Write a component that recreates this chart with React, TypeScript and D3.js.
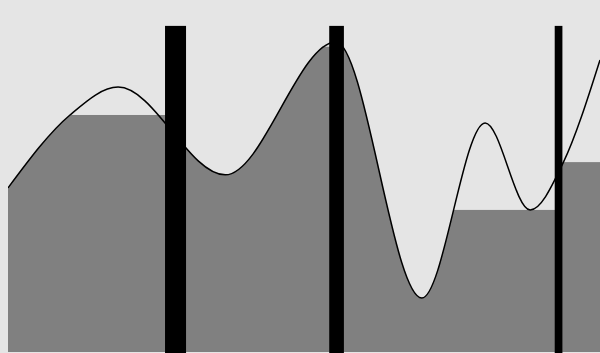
import React, { useEffect } from "react";
import * as d3 from "d3";

// Curve samples (x in domain units 0..100, y in value units 0..100)
const curveX = [0, 10.47, 18.6, 36.7, 55.4, 69.9, 80.6, 88.2, 93.75, 100];
const curveY = [47.7, 68.9, 77.0, 51.5, 90.1, 15.7, 66.6, 41.3, 54.9, 84.9];

// Separator bars: center position and width (domain units)
const barCenters = [28.3, 55.5, 93.0];
const barWidths = [3.55, 2.48, 1.3];
const barTop = 94.8;

// In each region between separators the fill follows the curve up to the
// split point, then holds the level reached there.
const regionSplits = [10.47, 53.04, 75.17, 93.0];
const regionCaps = [68.9, 88.75, 41.3, 55.2];

const W = 592;
const H = 345;
const BOTTOM = 344;

export default function App() {
  useEffect(() => {
    document.documentElement.style.background = "#e5e5e5";
    document.documentElement.style.overflow = "hidden";
    document.body.style.background = "#e5e5e5";
  }, []);

  const x = d3.scaleLinear().domain([0, 100]).range([0, W]);
  const y = d3.scaleLinear().domain([0, 100]).range([BOTTOM, 0]);

  const pts: [number, number][] = curveX.map((v, i) => [v, curveY[i]]);

  const area = d3
    .area<[number, number]>()
    .x((d) => x(d[0]))
    .y0(y(0))
    .y1((d) => y(d[1]))
    .curve(d3.curveMonotoneX);
  const line = d3
    .line<[number, number]>()
    .x((d) => x(d[0]))
    .y((d) => y(d[1]))
    .curve(d3.curveMonotoneX);

  const bounds = [0, ...barCenters, 100];
  const areaPath = area(pts) || "";

  return (
    <svg
      width={W}
      height={H}
      style={{ position: "fixed", left: 8, top: 8, display: "block", background: "#e5e5e5" }}
    >
      <defs>
        {regionSplits.map((s, i) => (
          <clipPath id={`reg${i}`} key={i}>
            <rect
              x={x(bounds[i])}
              y={0}
              width={Math.max(0, x(s) - x(bounds[i]))}
              height={H}
            />
          </clipPath>
        ))}
      </defs>
      {regionSplits.map((s, i) => (
        <g key={i}>
          <path d={areaPath} fill="#808080" clipPath={`url(#reg${i})`} />
          <rect
            x={x(s)}
            y={y(regionCaps[i])}
            width={x(bounds[i + 1]) - x(s)}
            height={y(0) - y(regionCaps[i])}
            fill="#808080"
          />
        </g>
      ))}
      <path d={line(pts) || ""} fill="none" stroke="#000" strokeWidth={1.5} />
      {barCenters.map((c, i) => (
        <rect
          key={i}
          x={x(c - barWidths[i] / 2)}
          y={y(barTop)}
          width={x(barWidths[i]) - x(0)}
          height={H - y(barTop)}
          fill="#000"
        />
      ))}
    </svg>
  );
}
